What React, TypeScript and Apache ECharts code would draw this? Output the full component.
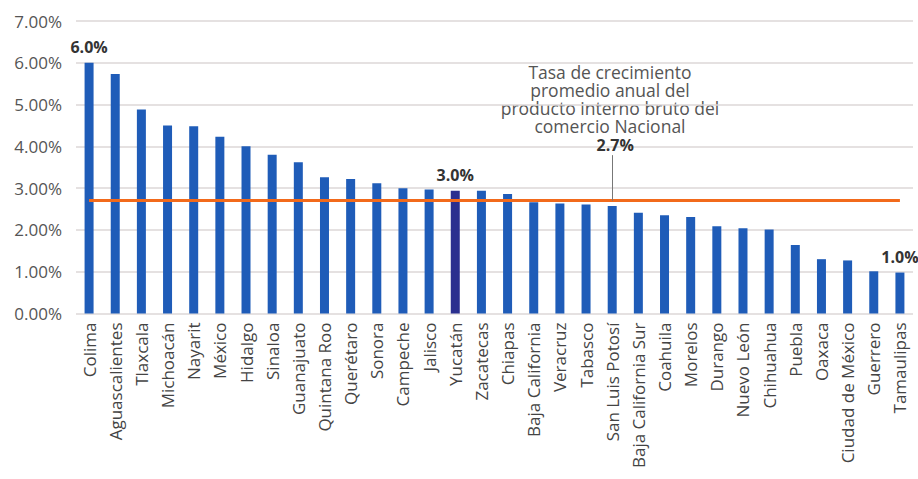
import React, { useEffect, useRef } from "react";
import * as echarts from "echarts";

const states = [
  "Colima", "Aguascalientes", "Tlaxcala", "Michoacán", "Nayarit", "México", "Hidalgo", "Sinaloa",
  "Guanajuato", "Quintana Roo", "Querétaro", "Sonora", "Campeche", "Jalisco", "Yucatán", "Zacatecas",
  "Chiapas", "Baja California", "Veracruz", "Tabasco", "San Luis Potosí", "Baja California Sur",
  "Coahuila", "Morelos", "Durango", "Nuevo León", "Chihuahua", "Puebla", "Oaxaca",
  "Ciudad de México", "Guerrero", "Tamaulipas",
];
const growth = [
  6.0, 5.73, 4.88, 4.5, 4.48, 4.23, 4.0, 3.8,
  3.62, 3.26, 3.22, 3.12, 3.0, 2.97, 2.94, 2.94,
  2.86, 2.66, 2.63, 2.61, 2.57, 2.41,
  2.35, 2.31, 2.09, 2.04, 2.01, 1.64, 1.3,
  1.27, 1.01, 0.98,
];
const labelled: Record<string, string> = { Colima: "6.0%", "Yucatán": "3.0%", Tamaulipas: "1.0%" };
const highlight = "Yucatán";
const nationalRate = 2.7;
const nationalLabel = "2.7%";
const annotationLines = [
  "Tasa de crecimiento",
  "promedio anual del",
  "producto interno bruto del",
  "comercio Nacional",
];
const yTicks = [0, 1, 2, 3, 4, 5, 6, 7];

const FONT = "'Open Sans', 'Noto Sans', sans-serif";

export default function App() {
  const ref = useRef<HTMLDivElement>(null);
  useEffect(() => {
    if (!ref.current) return;
    const chart = echarts.init(ref.current, null, { renderer: "svg" });
    const refIdx = states.indexOf("San Luis Potosí");
    const leaderTop = 3.79;
    chart.setOption({
      animation: false,
      backgroundColor: "#ffffff",
      grid: { left: 76, right: 5, top: 21, bottom: 165.5, containLabel: false },
      xAxis: {
        type: "category",
        data: states,
        axisLine: { show: false },
        axisTick: { show: false },
        axisLabel: {
          rotate: 90,
          interval: 0,
          margin: 9,
          color: "#444",
          fontSize: 17,
          fontFamily: FONT,
        },
      },
      yAxis: {
        type: "value",
        min: yTicks[0],
        max: yTicks[yTicks.length - 1],
        interval: 1,
        axisLine: { show: false },
        axisTick: { show: false },
        splitLine: { lineStyle: { color: "#ddd7d7", width: 1.5 } },
        axisLabel: {
          formatter: (v: number) => v.toFixed(2) + "%",
          color: "#555",
          fontSize: 17,
          fontFamily: FONT,
          margin: 14,
        },
      },
      series: [
        {
          type: "bar",
          barWidth: 9,
          data: growth.map((v, i) => ({
            value: v,
            itemStyle: { color: states[i] === highlight ? "#2b2f8f" : "#1f5cb8" },
            label: labelled[states[i]]
              ? {
                  show: true,
                  position: "top",
                  distance: 8,
                  formatter: labelled[states[i]],
                  fontWeight: "bold",
                  fontSize: 16,
                  color: "#333",
                  fontFamily: FONT,
                }
              : { show: false },
          })),
          markLine: {
            silent: true,
            symbol: "none",
            label: { show: false },
            data: [
              [
                { coord: [0, nationalRate], lineStyle: { color: "#f26a1b", width: 3, type: "solid" } },
                { coord: [states.length - 1, nationalRate] },
              ],
              [
                { coord: [refIdx, nationalRate], lineStyle: { color: "#777", width: 1, type: "solid" } },
                { coord: [refIdx, leaderTop] },
              ],
            ],
          },
          markPoint: {
            silent: true,
            symbol: "circle",
            symbolSize: 0,
            data: [
              {
                coord: [refIdx, leaderTop],
                label: {
                  show: true,
                  position: "top",
                  distance: 2,
                  offset: [3, 0],
                  formatter: nationalLabel,
                  fontWeight: "bold",
                  fontSize: 16,
                  color: "#333",
                  fontFamily: FONT,
                },
              },
            ],
          },
        },
      ],
      graphic: [
        {
          type: "text",
          style: {
            text: annotationLines.join("\n"),
            x: 610,
            y: 63,
            align: "center",
            verticalAlign: "top",
            fill: "#555",
            fontSize: 17.5,
            lineHeight: 18,
            fontFamily: FONT,
          },
        },
      ],
    });
    return () => chart.dispose();
  }, []);
  return <div ref={ref} style={{ position: "absolute", left: 0, top: 0, width: 918, height: 479 }} />;
}
